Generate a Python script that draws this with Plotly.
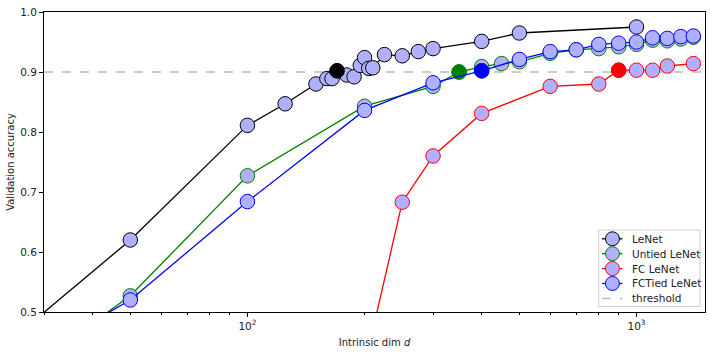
import math
import plotly.graph_objects as go

# ---- data ----
lenet_x = [10, 50, 100, 125, 150, 160, 165, 170, 180, 188, 195, 200, 205, 210, 225, 250, 275, 300, 400, 500, 1000]
lenet_y = [0.24, 0.62, 0.811, 0.847, 0.880, 0.889, 0.889, 0.902, 0.895, 0.892, 0.911, 0.924, 0.906, 0.907, 0.929, 0.927, 0.934, 0.939, 0.951, 0.965, 0.975]

untied_x = [10, 50, 100, 200, 300, 350, 400, 450, 500, 600, 700, 800, 900, 1000, 1100, 1200, 1300, 1400]
untied_y = [0.20, 0.527, 0.727, 0.843, 0.876, 0.900, 0.909, 0.914, 0.917, 0.931, 0.937, 0.939, 0.942, 0.946, 0.953, 0.952, 0.955, 0.958]

fc_x = [200, 250, 300, 400, 600, 800, 900, 1000, 1100, 1200, 1400]
fc_y = [0.41, 0.683, 0.760, 0.831, 0.876, 0.880, 0.903, 0.903, 0.903, 0.910, 0.914]

fctied_x = [10, 50, 100, 200, 300, 400, 500, 600, 700, 800, 900, 1000, 1100, 1200, 1300, 1400]
fctied_y = [0.26, 0.520, 0.684, 0.836, 0.882, 0.902, 0.921, 0.934, 0.937, 0.946, 0.948, 0.950, 0.957, 0.956, 0.959, 0.960]

# first point reaching the threshold, per series
thresh_x = [170, 350, 900, 400]
thresh_y = [0.902, 0.900, 0.903, 0.902]

threshold = 0.9
names = ["LeNet", "Untied LeNet", "FC LeNet", "FCTied LeNet"]
threshold_name = "threshold"
colors = ["black", "green", "red", "blue"]
xs = [lenet_x, untied_x, fc_x, fctied_x]
ys = [lenet_y, untied_y, fc_y, fctied_y]

x_range = [30, 1500]
y_range = [0.5, 1.0]
major_ticks = [100, 1000]
major_text = ["10<sup>2</sup>", "10<sup>3</sup>"]
minor_ticks = [30, 40, 50, 60, 70, 80, 90, 200, 300, 400, 500, 600, 700, 800, 900]
y_ticks = [0.5, 0.6, 0.7, 0.8, 0.9, 1.0]
y_text = ["0.5", "0.6", "0.7", "0.8", "0.9", "1.0"]

fill = "#b0b0ff"
thr_color = "#bbbbbb"
FONT = "DejaVu Sans"

W, H = 712, 356
ML, MR, MT, MB = 44, 6, 10, 44
PW, PH = W - ML - MR, H - MT - MB

fig = go.Figure()

for i in range(4):
    fig.add_trace(go.Scatter(
        x=xs[i], y=ys[i], mode="lines+markers", name=names[i], showlegend=False,
        line=dict(color=colors[i], width=1.3),
        marker=dict(size=14.5, color=fill, line=dict(color=colors[i], width=1)),
    ))
    fig.add_trace(go.Scatter(
        x=[thresh_x[i]], y=[thresh_y[i]], mode="markers", showlegend=False,
        marker=dict(size=14.5, color=colors[i], line=dict(color=colors[i], width=1)),
    ))

fig.add_shape(type="line", xref="paper", x0=0, x1=1, yref="y", y0=threshold, y1=threshold,
              line=dict(color=thr_color, width=1.5, dash="dash"), layer="below")

# ---- custom compact legend (matplotlib style) ----
def px_x(p):
    return (p - ML) / PW

def px_y(p):
    return (MT + PH - p) / PH

box_l, box_r, box_t, box_b = 599.5, 701, 229.5, 306.5
fig.add_shape(type="rect", xref="paper", yref="paper",
              x0=px_x(box_l), x1=px_x(box_r), y0=px_y(box_b), y1=px_y(box_t),
              line=dict(color="#cccccc", width=1), fillcolor="rgba(255,255,255,0.8)", layer="above")
row0, row_h = 238.3, 15.0
line_l, line_r, mark_c, text_l = 602.7, 623.3, 613.3, 630.5
legend_labels = names + [threshold_name]
for k, lab in enumerate(legend_labels):
    yy = px_y(row0 + k * row_h)
    if k < 4:
        fig.add_shape(type="line", xref="paper", yref="paper", x0=px_x(line_l), x1=px_x(line_r),
                      y0=yy, y1=yy, line=dict(color=colors[k], width=1.3), layer="above")
        fig.add_shape(type="circle", xref="paper", yref="paper", xsizemode="pixel", ysizemode="pixel",
                      xanchor=px_x(mark_c), yanchor=yy, x0=-7, x1=7, y0=-7, y1=7,
                      fillcolor=fill, line=dict(color=colors[k], width=1), layer="above")
    else:
        fig.add_shape(type="line", xref="paper", yref="paper", x0=px_x(line_l), x1=px_x(line_r),
                      y0=yy, y1=yy, line=dict(color=thr_color, width=1.5, dash="dash"), layer="above")
    fig.add_annotation(xref="paper", yref="paper", x=px_x(text_l), y=yy, text=lab,
                       showarrow=False, xanchor="left", yanchor="middle",
                       font=dict(family=FONT, size=10.5, color="#222"))

fig.update_layout(
    width=W, height=H,
    margin=dict(l=ML, r=MR, t=MT, b=MB),
    paper_bgcolor="white", plot_bgcolor="white",
    font=dict(family=FONT, size=10, color="#222"),
    showlegend=False,
    xaxis=dict(type="log", range=[math.log10(x_range[0]), math.log10(x_range[1])],
               tickmode="array", tickvals=major_ticks, ticktext=major_text,
               ticks="outside", ticklen=4, tickcolor="black", tickfont=dict(size=10.5),
               minor=dict(tickmode="array", tickvals=minor_ticks, ticks="outside", ticklen=2, tickcolor="black"),
               showline=True, linecolor="black", linewidth=1, mirror=True,
               showgrid=False, zeroline=False,
               title=dict(text="Intrinsic dim <i>d</i>", font=dict(size=10), standoff=8)),
    yaxis=dict(range=y_range, tickmode="array", tickvals=y_ticks, ticktext=y_text,
               ticks="outside", ticklen=4, tickcolor="black", tickfont=dict(size=10.5),
               showline=True, linecolor="black", linewidth=1, mirror=True,
               showgrid=False, zeroline=False,
               title=dict(text="Validation accuracy", font=dict(size=10), standoff=3)),
)

fig.write_html("out.html", config={"displayModeBar": False},
               post_script="document.body.style.margin='0';document.body.style.padding='0';")
